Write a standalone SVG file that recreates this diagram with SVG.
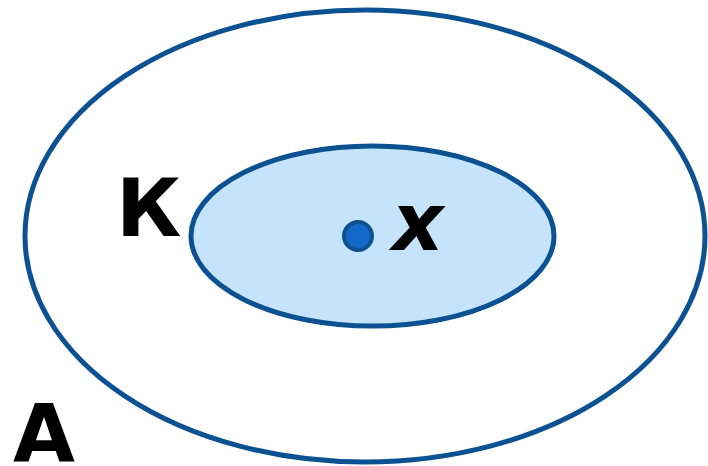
<svg xmlns="http://www.w3.org/2000/svg" width="708" height="466" viewBox="0 0 708 466">
<style>
.set{stroke:#0c5191;stroke-width:5}
.lbl{font-family:"DejaVu Sans",sans-serif;font-weight:bold;font-size:80px;fill:#000}
</style>
<rect width="708" height="466" fill="#fff"/>
<g id="A">
<ellipse class="set" cx="365" cy="236" rx="340" ry="226" fill="none"/>
<text class="lbl" x="13" y="462">A</text>
</g>
<g id="K">
<ellipse class="set" cx="372.5" cy="236" rx="181.5" ry="90" fill="#c5e3fa"/>
<text class="lbl" x="116" y="236">К</text>
</g>
<g id="x">
<circle cx="358" cy="236" r="14" fill="#1469c8" stroke="#0c5191" stroke-width="4"/>
<text class="lbl" x="392" y="250" font-style="italic">x</text>
</g>
<g id="connectors"/>
</svg>
